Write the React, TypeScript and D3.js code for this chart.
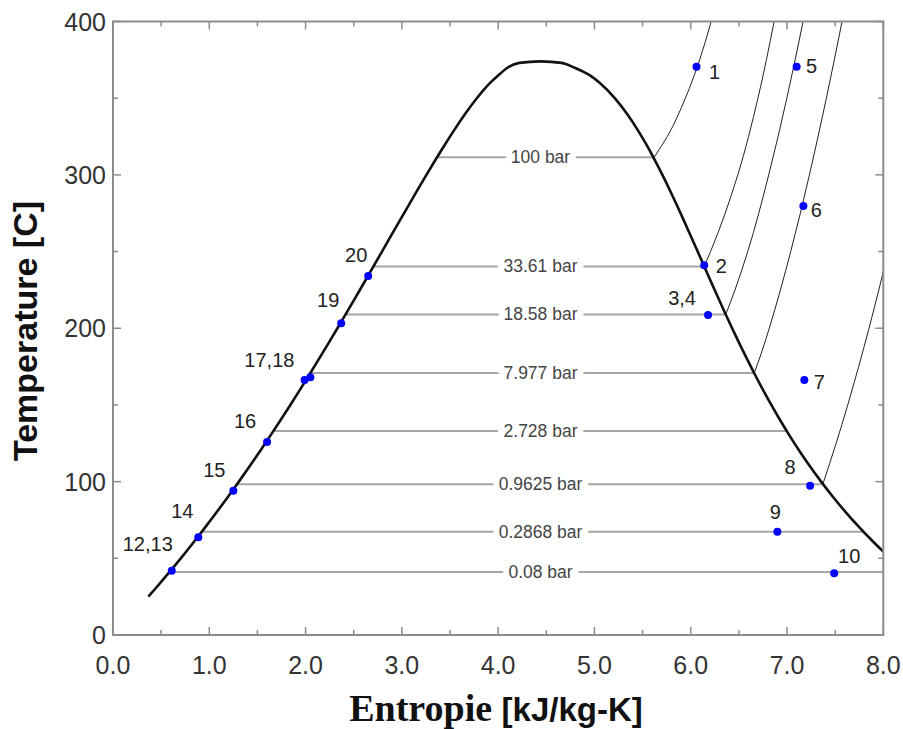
import React from "react";
import * as d3 from "d3";

const W = 903;
const H = 729;
const PLOT = { left: 113, top: 21.5, right: 883.3, bottom: 635 };

// Axis ticks
const xMajorTicks = [0, 1, 2, 3, 4, 5, 6, 7, 8];
const xMinorTicks = [0.5, 1.5, 2.5, 3.5, 4.5, 5.5, 6.5, 7.5];
const yMajorTicks = [0, 100, 200, 300, 400];
const yMinorTicks = [50, 150, 250, 350];

// Saturation dome (water): temperature [C], liquid entropy, vapour entropy
const satT = [25, 30, 40, 50, 60, 70, 80, 90, 100, 110, 120, 130, 140, 150, 160, 170, 180, 190, 200, 210, 220, 230, 240, 250, 260, 270, 280, 290, 300, 310, 320, 330, 340, 350, 360, 365, 370, 373];
const satSf = [0.3674, 0.4369, 0.5724, 0.7038, 0.8313, 0.9551, 1.0756, 1.1929, 1.3072, 1.4188, 1.5279, 1.6346, 1.7392, 1.8418, 1.9426, 2.0417, 2.1392, 2.2355, 2.3305, 2.4245, 2.5177, 2.6101, 2.702, 2.7935, 2.8849, 2.9765, 3.0685, 3.1612, 3.2552, 3.351, 3.4494, 3.5518, 3.6601, 3.7784, 3.9167, 4.0026, 4.1, 4.22];
const satSg = [8.558, 8.4533, 8.2555, 8.0748, 7.9081, 7.754, 7.6111, 7.4781, 7.3541, 7.2381, 7.1291, 7.0264, 6.9293, 6.8371, 6.7491, 6.665, 6.584, 6.5059, 6.4302, 6.3563, 6.284, 6.2128, 6.1423, 6.0721, 6.0016, 5.9304, 5.8579, 5.7834, 5.7059, 5.6244, 5.5372, 5.4422, 5.3356, 5.211, 5.0536, 4.9497, 4.79, 4.66];
const criticalS = 4.44;
const criticalT = 374.0;

// Isobars in the two-phase region
const isobarLabels = ["100 bar", "33.61 bar", "18.58 bar", "7.977 bar", "2.728 bar", "0.9625 bar", "0.2868 bar", "0.08 bar"];
const isobarT = [311.5, 240.3, 209, 170.8, 133, 98.3, 67.3, 41];
const isobarLabelS = 4.44;

// Superheated isobars: entropy and temperature
const sh100S = [5.62, 5.7568, 5.9443, 6.0926, 6.212];
const sh100T = [311.5, 325, 350, 375, 400];
const sh3361S = [6.14, 6.206, 6.489, 6.698, 6.866];
const sh3361T = [240.3, 250, 300, 350, 400];
const sh1858S = [6.364, 6.46, 6.592, 6.81, 6.998, 7.167];
const sh1858T = [209, 225, 250, 300, 350, 400];
const sh7977S = [6.66, 6.74, 6.8158, 7.0384, 7.2327, 7.4088, 7.5715];
const sh7977T = [170.8, 185, 200, 250, 300, 350, 400];
const sh09625S = [7.372, 7.51, 7.631, 7.852, 8.051];
const sh09625T = [98.3, 125, 150, 200, 250];

// Cycle state points
const pointLabels = ["1", "2", "3,4", "5", "6", "7", "8", "9", "10", "12,13", "14", "15", "16", "", "17,18", "19", "20"];
const pointS = [6.06, 6.14, 6.18, 7.1, 7.17, 7.18, 7.24, 6.9, 7.49, 0.61, 0.886, 1.25, 1.6, 1.99, 2.05, 2.37, 2.65];
const pointT = [370.5, 241, 208.6, 370.5, 279.7, 166.2, 97.3, 67.4, 40.2, 41.9, 63.7, 94.1, 125.8, 166.2, 168, 203.2, 234];

// label placement (pixel offsets from the dot)
const labelOffsets: [number, number][] = [
  [18, 5], [17, 1], [-26, -17], [15, -1], [13, 4], [15, 2], [-20, -19], [-2, -20], [15, -17],
  [-24, -27], [-16, -26], [-19, -21], [-22, -21], [0, 0], [-41, -17], [-13, -23], [-12, -21],
];

const SANS = "'Liberation Sans', Arial, sans-serif";
const SERIF = "'Liberation Serif', 'Times New Roman', serif";

export default function App() {
  const x = d3.scaleLinear().domain([0, 8]).range([PLOT.left, PLOT.right]);
  const y = d3.scaleLinear().domain([0, 400]).range([PLOT.bottom, PLOT.top]);

  const sfAt = d3.scaleLinear().domain(satT).range(satSf);
  const sgAt = d3.scaleLinear().domain(satT).range(satSg);

  const domePts: [number, number][] = [
    ...satT.map((t, i) => [satSf[i], t] as [number, number]),
    [criticalS, criticalT],
    ...satT.map((t, i) => [satSg[i], t] as [number, number]).reverse(),
  ];
  const domeLine = d3
    .line<[number, number]>()
    .x((d) => x(d[0]))
    .y((d) => y(d[1]))
    .curve(d3.curveMonotoneX);

  const shLine = d3
    .line<[number, number]>()
    .x((d) => x(d[0]))
    .y((d) => y(d[1]))
    .curve(d3.curveMonotoneY);

  const superheated: [number[], number[]][] = [
    [sh100S, sh100T],
    [sh3361S, sh3361T],
    [sh1858S, sh1858T],
    [sh7977S, sh7977T],
    [sh09625S, sh09625T],
  ];

  const frameColor = "#8c8c8c";
  const tickColor = "#333";

  return (
    <svg
      width={W}
      height={H}
      style={{ position: "absolute", left: 0, top: 0, background: "#fff" }}
    >
      <defs>
        <clipPath id="plotClip">
          <rect x={PLOT.left} y={PLOT.top} width={PLOT.right - PLOT.left} height={PLOT.bottom - PLOT.top} />
        </clipPath>
      </defs>

      <g clipPath="url(#plotClip)">
        {/* two-phase isobars */}
        {isobarT.map((t, i) => (
          <line
            key={"iso" + i}
            x1={x(sfAt(t))}
            x2={x(Math.min(sgAt(t), 8))}
            y1={y(t)}
            y2={y(t)}
            stroke="#a6a6a6"
            strokeWidth={2}
          />
        ))}
        {isobarT.map((t, i) => (
          <text
            key={"isoL" + i}
            x={x(isobarLabelS)}
            y={y(t)}
            textAnchor="middle"
            dominantBaseline="central"
            fontFamily={SANS}
            fontSize={17.5}
            fill="#444"
            stroke="#fff"
            strokeWidth={12}
            paintOrder="stroke"
          >
            {isobarLabels[i]}
          </text>
        ))}

        {/* superheated isobars */}
        {superheated.map(([ss, ts], i) => (
          <path
            key={"sh" + i}
            d={shLine(ss.map((s, j) => [s, ts[j]] as [number, number])) || ""}
            fill="none"
            stroke="#222"
            strokeWidth={1}
          />
        ))}

        {/* saturation dome */}
        <path d={domeLine(domePts) || ""} fill="none" stroke="#111" strokeWidth={2.6} />
      </g>

      {/* frame */}
      <rect
        x={PLOT.left}
        y={PLOT.top}
        width={PLOT.right - PLOT.left}
        height={PLOT.bottom - PLOT.top}
        fill="none"
        stroke={frameColor}
        strokeWidth={2}
      />
      {xMajorTicks.map((t) => (
        <g key={"xm" + t}>
          <line x1={x(t)} x2={x(t)} y1={PLOT.bottom} y2={PLOT.bottom - 8} stroke={frameColor} strokeWidth={1.5} />
          <line x1={x(t)} x2={x(t)} y1={PLOT.top} y2={PLOT.top + 8} stroke={frameColor} strokeWidth={1.5} />
          <text
            x={x(t)}
            y={665}
            textAnchor="middle"
            dominantBaseline="central"
            fontFamily={SANS}
            fontSize={25}
            fill={tickColor}
          >
            {t.toFixed(1)}
          </text>
        </g>
      ))}
      {xMinorTicks.map((t) => (
        <g key={"xn" + t}>
          <line x1={x(t)} x2={x(t)} y1={PLOT.bottom} y2={PLOT.bottom - 5} stroke={frameColor} strokeWidth={1.5} />
          <line x1={x(t)} x2={x(t)} y1={PLOT.top} y2={PLOT.top + 5} stroke={frameColor} strokeWidth={1.5} />
        </g>
      ))}
      {yMajorTicks.map((t) => (
        <g key={"ym" + t}>
          <line x1={PLOT.left} x2={PLOT.left + 8} y1={y(t)} y2={y(t)} stroke={frameColor} strokeWidth={1.5} />
          <line x1={PLOT.right} x2={PLOT.right - 8} y1={y(t)} y2={y(t)} stroke={frameColor} strokeWidth={1.5} />
          <text
            x={106}
            y={y(t)}
            textAnchor="end"
            dominantBaseline="central"
            fontFamily={SANS}
            fontSize={25}
            fill={tickColor}
          >
            {t}
          </text>
        </g>
      ))}
      {yMinorTicks.map((t) => (
        <g key={"yn" + t}>
          <line x1={PLOT.left} x2={PLOT.left + 5} y1={y(t)} y2={y(t)} stroke={frameColor} strokeWidth={1.5} />
          <line x1={PLOT.right} x2={PLOT.right - 5} y1={y(t)} y2={y(t)} stroke={frameColor} strokeWidth={1.5} />
        </g>
      ))}

      {/* state points */}
      {pointS.map((s, i) => (
        <circle key={"p" + i} cx={x(s)} cy={y(pointT[i])} r={4} fill="#0000ff" />
      ))}
      {pointS.map((s, i) =>
        pointLabels[i] ? (
          <text
            key={"pl" + i}
            x={x(s) + labelOffsets[i][0]}
            y={y(pointT[i]) + labelOffsets[i][1]}
            textAnchor="middle"
            dominantBaseline="central"
            fontFamily={SANS}
            fontSize={20}
            fill="#222"
          >
            {pointLabels[i]}
          </text>
        ) : null
      )}

      {/* axis titles */}
      <text
        transform="translate(37,331) rotate(-90)"
        textAnchor="middle"
        fontFamily={SANS}
        fontWeight="bold"
        fontSize={34}
        fill="#111"
      >
        Temperature [C]
      </text>
      <text x={496} y={721} textAnchor="middle" fill="#111" fontWeight="bold">
        <tspan fontFamily={SERIF} fontSize={38}>Entropie </tspan>
        <tspan fontFamily={SANS} fontSize={33}>[kJ/kg-K]</tspan>
      </text>
    </svg>
  );
}
